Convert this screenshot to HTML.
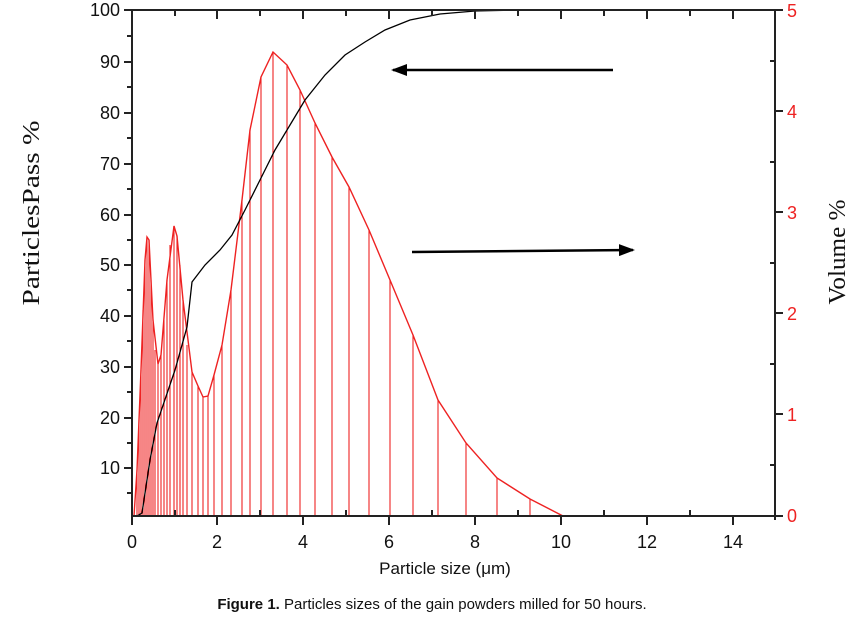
<!DOCTYPE html>
<html><head><meta charset="utf-8"><style>body{margin:0;background:#fff}svg{display:block}</style></head><body>
<svg width="854" height="626" viewBox="0 0 854 626" xmlns="http://www.w3.org/2000/svg" font-family="Liberation Sans, sans-serif">
<defs>
<marker id="ah2" markerWidth="16" markerHeight="12" refX="14" refY="6" orient="auto" markerUnits="userSpaceOnUse"><path d="M0,0 L16,6 L0,12 z" fill="#000"/></marker></defs>
<g stroke="#ee2222" stroke-width="1.1" fill="none">
<path d="M137,516V470M139,516V420M141,516V370M143,516V310M145,516V260M147,516V237M149,516V240M151,516V280M153,516V320M155,516V350M158,516V364M161,516V355M164,516V320M167,516V280M170,516V245M174,516V226M177,516V236M180,516V265M183,516V300M187,516V345M192,516V372M198,516V386M203,516V397M208,516V396M214,516V375M222,516V345M231,516V290M242,516V200M250,516V130M261,516V77M273,516V52M287,516V65M300,516V90M315,516V123M332,516V157M349,516V187M369,516V230M390,516V280M413,516V335M438,516V400M466,516V443M497,516V478M530,516V499"/>
<path stroke-width="1.4" d="M134,516 L137,470 L141,370 L145,260 L147,237 L149,240 L153,320 L158,364 L161,355 L167,280 L174,226 L177,236 L183,300 L192,372 L198,386 L203,397 L208,396 L214,375 L222,345 L231,290 L242,200 L250,130 L261,77 L273,52 L287,65 L300,90 L315,123 L332,157 L349,187 L369,230 L390,280 L413,335 L438,400 L466,443 L497,478 L530,499 L563,516 L775,516"/>
</g>
<path fill="none" stroke="#000" stroke-width="1.3" d="M132,516 L137,516 L142,513 L150,460 L157,423 L175,370 L187,327 L192,282 L205,265 L220,250 L232,235 L245,210 L260,180 L275,150 L290,125 L305,100 L325,75 L345,55 L365,42 L385,30 L410,20 L440,14 L475,11 L520,10 L775,10"/>
<g stroke="#000" stroke-width="2.5" fill="none">
<line x1="613" y1="70" x2="393" y2="70" marker-end="url(#ah2)"/>
<line x1="412" y1="252" x2="633" y2="250" marker-end="url(#ah2)"/>
</g>
<g stroke="#222" stroke-width="2" fill="none">
<path d="M132,10H775M132,516H775M132,10V520M775,10V520"/>
<path d="M132,10h-8M132,62h-8M132,113h-8M132,164h-8M132,215h-8M132,265h-8M132,316h-8M132,367h-8M132,418h-8M132,468h-8"/>
<path d="M132,36h-5M132,87h-5M132,138h-5M132,189h-5M132,240h-5M132,290h-5M132,341h-5M132,392h-5M132,443h-5M132,493h-5"/>
<path d="M775,10h8M775,111h8M775,212h8M775,313h8M775,414h8M775,516h8M775,61h-5M775,162h-5M775,263h-5M775,364h-5M775,465h-5"/>
<path d="M132,516v9M217,516v9M303,516v9M389,516v9M475,516v9M561,516v9M647,516v9M733,516v9"/>
<path d="M175,516v-6M260,516v-6M346,516v-6M432,516v-6M518,516v-6M604,516v-6M690,516v-6"/>
<path d="M217,10v9M303,10v9M389,10v9M475,10v9M561,10v9M647,10v9M733,10v9M175,10v6M260,10v6M346,10v6M432,10v6M518,10v6M604,10v6M690,10v6"/>
</g>
<g font-size="18" text-anchor="end" fill="#111">
<text x="120" y="16">100</text><text x="120" y="68">90</text><text x="120" y="119">80</text><text x="120" y="170">70</text><text x="120" y="221">60</text><text x="120" y="271">50</text><text x="120" y="322">40</text><text x="120" y="373">30</text><text x="120" y="424">20</text><text x="120" y="474">10</text>
</g>
<g font-size="18" fill="#e22" text-anchor="start">
<text x="787" y="17">5</text><text x="787" y="118">4</text><text x="787" y="219">3</text><text x="787" y="320">2</text><text x="787" y="421">1</text><text x="787" y="522">0</text>
</g>
<g font-size="18" text-anchor="middle" fill="#111">
<text x="132" y="548">0</text><text x="217" y="548">2</text><text x="303" y="548">4</text><text x="389" y="548">6</text><text x="475" y="548">8</text><text x="561" y="548">10</text><text x="647" y="548">12</text><text x="733" y="548">14</text>
<text x="445" y="574" font-size="17">Particle size (μm)</text>
<text x="432" y="609" font-size="15"><tspan font-weight="bold">Figure 1.</tspan> Particles sizes of the gain powders milled for 50 hours.</text>
</g>
<text font-family="Liberation Serif, serif" font-size="24" text-anchor="middle" textLength="185" lengthAdjust="spacingAndGlyphs" transform="translate(39,213) rotate(-90)" fill="#111">ParticlesPass %</text>
<text font-family="Liberation Serif, serif" font-size="24" text-anchor="middle" textLength="105" lengthAdjust="spacingAndGlyphs" transform="translate(845,252) rotate(-90)" fill="#111">Volume %</text>
</svg>
</body></html>
